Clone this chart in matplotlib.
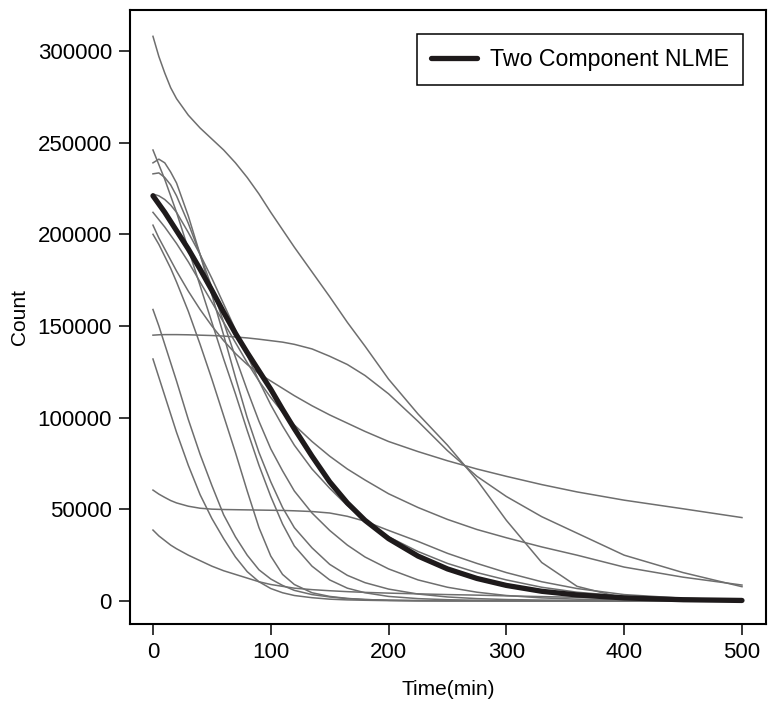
import numpy as np
import matplotlib.pyplot as plt

plt.rcParams['font.family'] = ['Liberation Sans', 'DejaVu Sans']

# sample times (min) shared by every curve
times = [0, 5, 10, 15, 20, 30, 40, 50, 60, 70, 80, 90, 100, 110, 120, 135, 150, 165, 180, 200,
         225, 250, 275, 300, 330, 360, 400, 450, 500]

# individual subject curves, counts in thousands
subj_a = [308, 297, 288, 280, 274, 265, 258, 252, 246, 239, 231, 222, 212, 202.5, 193, 179.5, 166, 152, 139, 121,
          102, 85, 66, 44, 21, 8, 1.5, 0.3, 0.1]
subj_b = [145, 145.2, 145.3, 145.3, 145.3, 145.2, 145, 144.8, 144.5, 144, 143.5, 142.8, 142, 141.2, 140, 137.5, 133.5, 129, 123, 113,
          98, 82, 68, 57, 46, 37, 25, 15.5, 7.8]
subj_c = [205, 198, 192, 186, 180, 169, 159, 150, 142, 135, 129, 124, 120, 116, 112, 106.5, 101.5, 97, 92.5, 87,
          81.5, 76.5, 72, 68, 63.5, 59.5, 55, 50.3, 45.5]
subj_d = [212, 208, 204, 199.5, 195, 185, 174, 163, 152, 141, 130, 120, 111, 103, 96, 87, 79, 72, 66, 58.5,
          51, 44.5, 39, 34.5, 29.5, 25, 18.5, 13, 8.7]
subj_e = [222, 221, 219, 216, 212, 201, 189, 176, 162, 148, 134, 120, 107, 95.5, 85, 72, 61.5, 52, 44, 35,
          27, 20.5, 15.5, 11.5, 7.5, 4.8, 2.6, 1.2, 0.5]
subj_f = [233, 233.5, 231, 227, 221, 206, 189, 171, 152, 133, 115, 98, 83, 71, 60, 48, 38.5, 30.5, 24, 17.5,
          11.5, 7.5, 4.8, 3, 1.7, 1, 0.5, 0.2, 0.1]
subj_g = [239, 241, 239, 234, 228, 210, 189, 167, 145, 122, 100, 81, 65, 51, 40, 29, 20, 14, 10, 6.5,
          3.8, 2.2, 1.3, 0.8, 0.5, 0.3, 0.2, 0.1, 0.1]
subj_h = [246, 238, 230, 221, 212, 192, 172, 152, 132, 113, 93, 74, 57, 42, 30, 19, 11.5, 7, 4.5, 2.5,
          1.3, 0.7, 0.4, 0.2, 0.1, 0.1, 0.1, 0.1, 0.1]
subj_i = [200, 194.5, 188, 181.5, 174, 158, 140, 121, 101, 81, 60, 40, 24.5, 14.5, 9, 4.5, 2.5, 1.4, 0.8, 0.4,
          0.2, 0.1, 0.1, 0.1, 0.1, 0.1, 0.1, 0.1, 0.1]
subj_j = [159, 150, 140, 130, 120, 99, 80, 63, 47, 35, 25, 17, 12, 8.5, 5.8, 3.5, 2.2, 1.3, 0.8, 0.4,
          0.2, 0.1, 0.1, 0.1, 0.1, 0.1, 0.1, 0.1, 0.1]
subj_k = [132, 122, 112, 102, 92, 74, 58, 45, 34, 24, 16, 10.5, 6.8, 4.5, 3, 1.8, 1, 0.6, 0.4, 0.2,
          0.1, 0.1, 0.1, 0.1, 0.1, 0.1, 0.1, 0.1, 0.1]
subj_l = [60.5, 58.3, 56.5, 54.8, 53.5, 51.7, 50.6, 50.1, 49.9, 49.8, 49.7, 49.6, 49.5, 49.4, 49.2, 48.8, 48, 46.2, 43.5, 38.5,
          32.5, 26, 20.5, 15.5, 10.5, 6.8, 3.5, 1.5, 0.6]
subj_m = [38.7, 35.5, 33, 30.5, 28.5, 25, 22, 19, 16.5, 14.5, 12.5, 10.5, 9, 8, 7, 6.2, 5.6, 5.1, 4.7, 4.3,
          3.9, 3.5, 3.2, 2.8, 2.4, 2, 1.5, 1, 0.6]

# population fit
nlme_fit = [221, 216.5, 212, 207, 202, 192, 181, 169.5, 157.5, 146, 135.5, 125.5, 115.5, 104.5, 94, 79, 65, 53.5, 44, 34,
            24.5, 17.5, 12.3, 8.5, 5.3, 3.3, 1.7, 0.7, 0.3]

subjects = [subj_a, subj_b, subj_c, subj_d, subj_e, subj_f, subj_g,
            subj_h, subj_i, subj_j, subj_k, subj_l, subj_m]

fig = plt.figure(figsize=(7.76, 7.11), dpi=100)
ax = fig.add_axes([130 / 776, 87 / 711, 636 / 776, 614 / 711])

t = np.array(times)
for s in subjects:
    ax.plot(t, np.array(s) * 1000, color='#6e6e6e', lw=1.1)

ax.plot(t, np.array(nlme_fit) * 1000, color='#1e1a1b', lw=3.8,
        solid_capstyle='round', label='Two Component NLME')

ax.set_xlim(-19.5, 520.4)
ax.set_ylim(-12545, 322364)
ax.set_xticks([0, 100, 200, 300, 400, 500])
ax.set_yticks([0, 50000, 100000, 150000, 200000, 250000, 300000])
ax.set_yticklabels(['0', '50000', '100000', '150000', '200000', '250000', '300000'])

for sp in ax.spines.values():
    sp.set_linewidth(1.5)
ax.tick_params(direction='out', length=8, width=1.1, labelsize=16, pad=5)

ax.set_xlabel('Time(min)', fontsize=15, labelpad=12)
ax.set_ylabel('Count', fontsize=15, labelpad=6)

leg = ax.legend(loc='upper right', bbox_to_anchor=(0.9638, 0.961), borderaxespad=0,
                fancybox=False, edgecolor='black', framealpha=1, fontsize=16.7,
                handlelength=2.0, handletextpad=0.55, borderpad=0.6)
leg.get_frame().set_linewidth(1.1)

fig.savefig('out.png', dpi=100)
